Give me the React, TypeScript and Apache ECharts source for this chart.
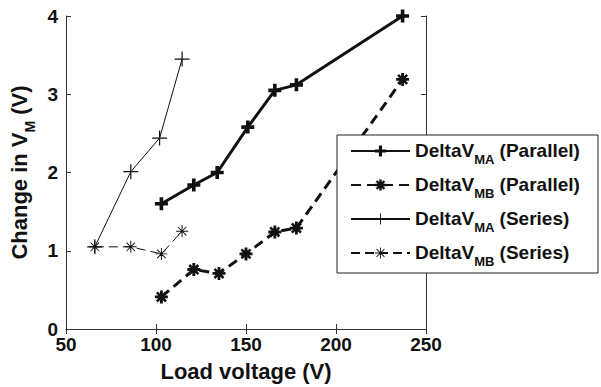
import React, { useEffect, useRef } from "react";
import * as echarts from "echarts";

const xTicks = [50, 100, 150, 200, 250];
const yTicks = [0, 1, 2, 3, 4];

const xMAParallel = [103, 121, 134, 151, 166, 178, 237];
const yMAParallel = [1.6, 1.84, 2.0, 2.58, 3.05, 3.12, 4.0];
const xMBParallel = [103, 121, 135, 150, 166, 178, 237];
const yMBParallel = [0.41, 0.76, 0.71, 0.96, 1.24, 1.29, 3.19];
const xMASeries = [66, 86, 102, 114.5];
const yMASeries = [1.05, 2.01, 2.44, 3.45];
const xMBSeries = [66, 86, 103, 114.5];
const yMBSeries = [1.05, 1.05, 0.96, 1.25];

const seriesNames = ["MA_P", "MB_P", "MA_S", "MB_S"];
const legendLabels: Record<string, [string, string, string]> = {
  MA_P: ["DeltaV", "MA", " (Parallel)"],
  MB_P: ["DeltaV", "MB", " (Parallel)"],
  MA_S: ["DeltaV", "MA", " (Series)"],
  MB_S: ["DeltaV", "MB", " (Series)"],
};

const zip = (xs: number[], ys: number[]) => xs.map((x, i) => [x, ys[i]]);

const plusThick = "path://M3.6,0 H6.4 V3.6 H10 V6.4 H6.4 V10 H3.6 V6.4 H0 V3.6 H3.6 Z";
const plusThin = "path://M4.6,0 H5.4 V4.6 H10 V5.4 H5.4 V10 H4.6 V5.4 H0 V4.6 H4.6 Z";
const astThin =
  "path://M0,4.6 H10 V5.4 H0 Z M4.6,0 L5.4,0 L5.4,10 L4.6,10 Z M1.78,1.22 L8.78,8.22 L8.22,8.78 L1.22,1.78 Z M8.22,1.22 L8.78,1.78 L1.78,8.78 L1.22,8.22 Z";
const astThick =
  "path://M0,3.9 H10 V6.1 H0 Z M3.9,0 L6.1,0 L6.1,10 L3.9,10 Z M2.2,0.8 L9.2,7.8 L7.8,9.2 L0.8,2.2 Z M7.8,0.8 L9.2,2.2 L2.2,9.2 L0.8,7.8 Z M2.6,5 A2.4,2.4 0 1 1 7.4,5 A2.4,2.4 0 1 1 2.6,5 Z";

const FONT = "'Liberation Sans', Arial, sans-serif";
const INK = "#111";

export default function App() {
  const ref = useRef<HTMLDivElement>(null);
  useEffect(() => {
    if (!ref.current) return;
    const chart = echarts.init(ref.current, undefined, { renderer: "svg" });
    const axisCommon = {
      type: "value",
      axisLine: { show: true, lineStyle: { color: "#333", width: 1 } },
      axisTick: { show: true, inside: true, length: 5, lineStyle: { color: "#333" } },
      splitLine: { show: false },
    };
    const legendRich = {
      n: { fontFamily: FONT, fontWeight: "bold", fontSize: 19, color: INK, lineHeight: 20, verticalAlign: "top" },
      s: { fontFamily: FONT, fontWeight: "bold", fontSize: 13, color: INK, lineHeight: 13, verticalAlign: "top", padding: [12, 0, 0, 0] },
    };
    chart.setOption({
      animation: false,
      backgroundColor: "#fff",
      grid: { left: 66, right: 175, top: 16, bottom: 55 },
      xAxis: [
        {
          ...axisCommon,
          min: 50,
          max: 250,
          interval: 50,
          position: "bottom",
          axisLabel: {
            color: INK,
            fontFamily: FONT,
            fontWeight: "bold",
            fontSize: 19,
            margin: 6,
            formatter: (v: number) => (xTicks.includes(v) ? String(v) : ""),
          },
          name: "Load voltage (V)",
          nameLocation: "middle",
          nameGap: 31,
          nameTextStyle: { color: INK, fontFamily: FONT, fontWeight: "bold", fontSize: 22 },
        },
        {
          ...axisCommon,
          min: 50,
          max: 250,
          interval: 50,
          position: "top",
          axisLabel: { show: false },
        },
      ],
      yAxis: [
        {
          ...axisCommon,
          min: 0,
          max: 4,
          interval: 1,
          position: "left",
          axisLabel: {
            color: INK,
            fontFamily: FONT,
            fontWeight: "bold",
            fontSize: 19,
            margin: 8,
            formatter: (v: number) => (yTicks.includes(v) ? String(v) : ""),
          },
          name: "{n|Change in V}{s|M}{n| (V)}",
          nameLocation: "middle",
          nameGap: 33,
          nameTextStyle: {
            rich: {
              n: { fontFamily: FONT, fontWeight: "bold", fontSize: 22, color: INK, lineHeight: 24, verticalAlign: "top" },
              s: { fontFamily: FONT, fontWeight: "bold", fontSize: 14, color: INK, lineHeight: 14, verticalAlign: "top", padding: [14, 0, 0, 0] },
            },
          },
        },
        {
          ...axisCommon,
          min: 0,
          max: 4,
          interval: 1,
          position: "right",
          axisLabel: { show: false },
        },
      ],
      legend: {
        orient: "vertical",
        left: 350,
        top: 141,
        padding: 0,
        itemWidth: 59,
        itemHeight: 14,
        itemGap: 9,
        data: seriesNames,
        formatter: (name: string) => {
          const [a, b, c] = legendLabels[name];
          return `{n|${a}}{s|${b}}{n|${c}}`;
        },
        textStyle: { rich: legendRich },
        z: 5,
      },
      graphic: [
        {
          type: "rect",
          z: 3,
          shape: { x: 337, y: 135, width: 261, height: 138 },
          style: { fill: "#fff", stroke: "#222", lineWidth: 1 },
        },
      ],
      series: [
        {
          name: "MA_P",
          type: "line",
          data: zip(xMAParallel, yMAParallel),
          lineStyle: { color: INK, width: 3, type: "solid" },
          itemStyle: { color: INK },
          symbol: plusThick,
          symbolSize: 13,
          z: 2,
        },
        {
          name: "MB_P",
          type: "line",
          data: zip(xMBParallel, yMBParallel),
          lineStyle: { color: INK, width: 3, type: [10, 6] },
          itemStyle: { color: INK },
          symbol: astThick,
          symbolSize: 13,
          z: 2,
        },
        {
          name: "MA_S",
          type: "line",
          data: zip(xMASeries, yMASeries),
          lineStyle: { color: INK, width: 1, type: "solid" },
          itemStyle: { color: INK },
          symbol: plusThin,
          symbolSize: 15,
          z: 2,
        },
        {
          name: "MB_S",
          type: "line",
          data: zip(xMBSeries, yMBSeries),
          lineStyle: { color: INK, width: 1, type: [9, 5] },
          itemStyle: { color: INK },
          symbol: astThin,
          symbolSize: 12,
          z: 2,
        },
      ],
    });
    return () => chart.dispose();
  }, []);
  return <div ref={ref} style={{ width: 601, height: 387, position: "absolute", left: 0, top: 0 }} />;
}
